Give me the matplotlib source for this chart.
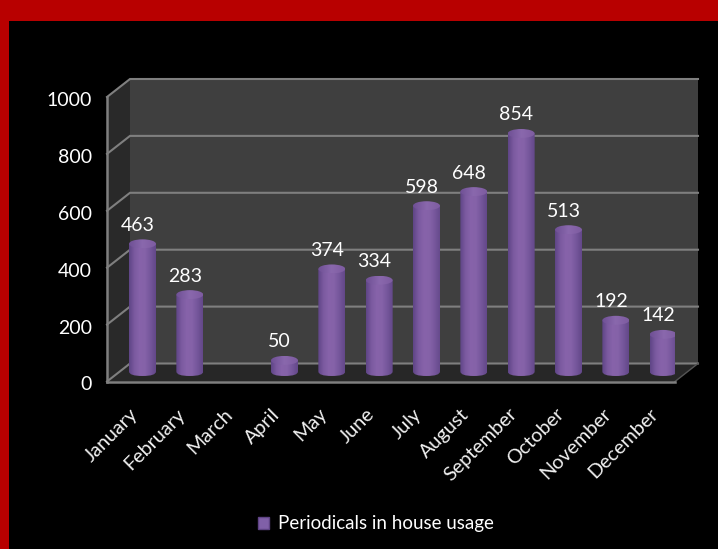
import numpy as np
import matplotlib
matplotlib.use('Agg')
import matplotlib.pyplot as plt
from matplotlib.colors import LinearSegmentedColormap
from matplotlib.patches import Ellipse, PathPatch, Polygon, Rectangle
from matplotlib.path import Path
from matplotlib.transforms import ScaledTranslation

months = ['January', 'February', 'March', 'April', 'May', 'June', 'July',
          'August', 'September', 'October', 'November', 'December']
usage = [463, 283, 0, 50, 374, 334, 598, 648, 854, 513, 192, 142]
y_ticks = [0, 200, 400, 600, 800, 1000]
series_name = 'Periodicals in house usage'

plt.rcParams['font.family'] = ['Lato', 'DejaVu Sans']

W, H = 718, 549
fig = plt.figure(figsize=(W / 100, H / 100), dpi=100, facecolor='black')

# red frame, top and left only
fig.patches.append(Rectangle((0, 1 - 21 / H), 1, 21 / H, transform=fig.transFigure, color='#b80000', lw=0))
fig.patches.append(Rectangle((0, 0), 9 / W, 1, transform=fig.transFigure, color='#b80000', lw=0))

# axes = front plane of the fake 3d box
ax = fig.add_axes([107 / W, 1 - 381.5 / H, 568 / W, 284.5 / H], facecolor='none')
ax.set_xlim(0, 12)
ax.set_ylim(0, 1000)

px_x = 568 / 12
px_y = 284.5 / 1000
dx = 23 / px_x
dy = 18 / px_y

# walls
ax.add_patch(Rectangle((dx, dy), 12, 1000, fc='#3f3f3f', ec='none', clip_on=False, zorder=1))
ax.add_patch(Polygon([(0, 0), (dx, dy), (dx, 1000 + dy), (0, 1000)], fc='#292929', ec='none', clip_on=False, zorder=1))
ax.add_patch(Polygon([(0, 0), (12, 0), (12 + dx, dy), (dx, dy)], fc='#272727', ec='none', clip_on=False, zorder=1))

grid = '#7f7f7f'
for t in y_ticks:
    ax.plot([0, dx, 12 + dx], [t, t + dy, t + dy], color=grid, lw=1.5, clip_on=False, zorder=2, solid_joinstyle='miter')
ax.plot([12, 12 + dx], [0, dy], color='#555555', lw=1, clip_on=False, zorder=2)

# cylinders
cyl = LinearSegmentedColormap.from_list('cyl', ['#5f4586', '#7b5aa0', '#8763aa', '#8562a8', '#75569b', '#634889'])
cap = LinearSegmentedColormap.from_list('cap', ['#6f5095', '#8a68ad', '#7d5ca0'])
grad = np.linspace(0, 1, 64).reshape(1, -1)

bar_w = 27 / px_x
ell_h = 9 / px_y
top_base = 7 / px_y
body_base = 10 / px_y
scale = 0.992

for i, v in enumerate(usage):
    if not v:
        continue
    x0 = i + 0.75 - bar_w / 2
    x1 = x0 + bar_w
    mid = (x0 + x1) / 2
    top = top_base + v * scale
    low = body_base - ell_h / 2
    # body with a rounded bottom
    verts = [(x0, top), (x0, body_base), (x0, low), (mid, low), (x1, low), (x1, body_base), (x1, top), (x0, top)]
    codes = [Path.MOVETO, Path.LINETO, Path.CURVE3, Path.CURVE3, Path.CURVE3, Path.CURVE3, Path.LINETO, Path.CLOSEPOLY]
    im = ax.imshow(grad, extent=[x0, x1, low, top], aspect='auto', cmap=cyl, zorder=3)
    im.set_clip_path(PathPatch(Path(verts, codes), transform=ax.transData))
    top_cap = Ellipse((mid, top), bar_w, ell_h, transform=ax.transData)
    im2 = ax.imshow(grad, extent=[x0, x1, top - ell_h / 2, top + ell_h / 2], aspect='auto', cmap=cap, zorder=4)
    im2.set_clip_path(top_cap)
    ax.annotate(str(v), (mid, top + ell_h / 2), xytext=(-3.5, 4), textcoords='offset points',
                ha='center', va='bottom', color='white', fontsize=14, zorder=5)

ax.set_xlim(0, 12)
ax.set_ylim(0, 1000)

ax.set_xticks(np.arange(12) + 0.5)
ax.set_xticklabels(months, rotation=45, ha='right', va='top', rotation_mode='anchor', color='#f0f0f0', fontsize=14.2)
ax.set_yticks(y_ticks)
ax.tick_params(axis='x', length=0, pad=14)
ax.tick_params(axis='y', length=0, pad=11, labelcolor='white', labelsize=14)
# tick_params resets label transforms, so nudge after it
shift_x = ScaledTranslation(-1.5 / 100, -4.5 / 100, fig.dpi_scale_trans)
for lab in ax.get_xticklabels():
    lab.set_transform(lab.get_transform() + shift_x)
shift_y = ScaledTranslation(0, -2 / 100, fig.dpi_scale_trans)
for lab in ax.get_yticklabels():
    lab.set_transform(lab.get_transform() + shift_y)
for name, sp in ax.spines.items():
    sp.set_visible(name in ('left', 'bottom'))
    sp.set_color(grid)
    sp.set_linewidth(1.8)
    sp.set_zorder(2.5)

handle = Rectangle((0, 0), 1, 1, fc='#8060a8', ec='#5e4384')
fig.legend([handle], [series_name], loc='center', bbox_to_anchor=(376 / W, 1 - 524 / H), frameon=False,
           labelcolor='white', fontsize=13.5, handlelength=0.6, handleheight=0.6, handletextpad=0.45)

fig.savefig('out.png', dpi=100, facecolor='black')
